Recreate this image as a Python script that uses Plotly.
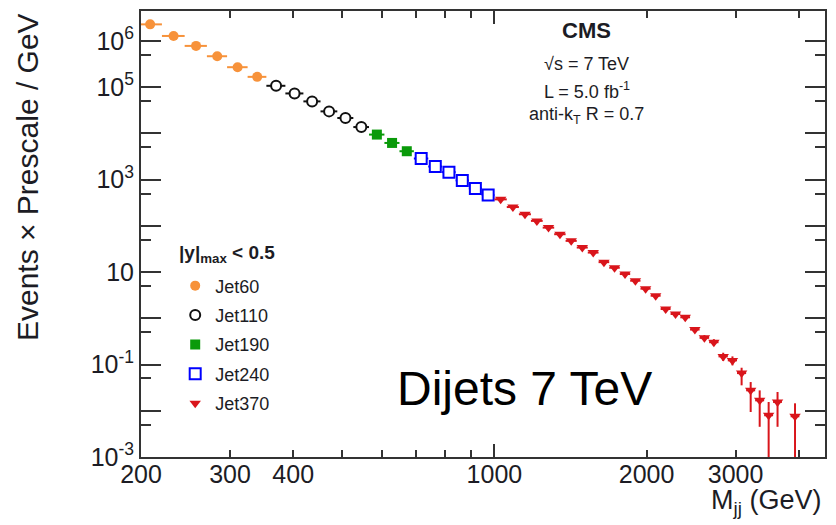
import plotly.graph_objects as go

# Dijet mass bin edges (GeV) for each trigger path
jet60_edges = [197, 220, 244, 270, 296, 325, 354]
jet110_edges = [354, 386, 419, 453, 489, 526, 565]
jet190_edges = [565, 606, 649, 693]
jet240_edges = [693, 740, 788, 838, 890, 944, 1000]
jet370_edges = [1000, 1058, 1118, 1181, 1246, 1313, 1383, 1455, 1530, 1607, 1687,
                1770, 1856, 1945, 2037, 2132, 2231, 2332, 2438, 2546, 2659, 2775,
                2895, 3019, 3147, 3279, 3416, 3558, 3704, 3854, 4010]

# Events x Prescale / GeV per bin
jet60_vals = [2.28e6, 1.28e6, 7.8e5, 4.66e5, 2.70e5, 1.67e5]
jet110_vals = [1.07e5, 7.31e4, 4.92e4, 2.99e4, 2.15e4, 1.37e4]
jet190_vals = [9.42e3, 6.21e3, 4.11e3]
jet240_vals = [2.86e3, 1.92e3, 1.45e3, 961, 646, 463]
jet370_vals = [374, 255, 178, 128, 91.5, 65.9, 47.3, 33.9, 26.4, 16.4, 12.4, 9.06,
               6.50, 4.37, 3.08, 1.59, 1.24, 1.05, 0.571, 0.378, 0.304, 0.150,
               0.123, 0.0653, 0.0277, 0.0168, 0.0080, 0.0155, None, 0.0076]
jet370_err_hi = [4, 3, 2, 1.5, 1.2, 0.9, 0.7, 0.6, 0.5, 0.4, 0.35, 0.3, 0.25, 0.2,
                 0.17, 0.12, 0.11, 0.1, 0.07, 0.055, 0.05, 0.03, 0.027, 0.02,
                 0.0141, 0.0108, 0.0075, 0.0100, 0, 0.0069]
jet370_err_lo = [4, 3, 2, 1.5, 1.2, 0.9, 0.7, 0.6, 0.5, 0.4, 0.35, 0.3, 0.25, 0.2,
                 0.17, 0.12, 0.11, 0.1, 0.07, 0.055, 0.05, 0.03, 0.027, 0.0298,
                 0.0183, 0.0123, 0.0079, 0.0110, 0, 0.0075]

# Axis ticks
x_tick_vals = [200, 300, 400, 1000, 2000, 3000]
x_tick_text = ["200", "300", "400", "1000", "2000", "3000"]
x_minor_vals = [500, 600, 700, 800, 900, 4000]
x_long_vals = [1000]
y_tick_vals = [1e-3, 1e-1, 10, 1e3, 1e5, 1e6]
y_tick_text = ["10<sup>-3</sup>", "10<sup>-1</sup>", "10",
               "10<sup>3</sup>", "10<sup>5</sup>", "10<sup>6</sup>"]
y_unlabeled_vals = [1e-2, 1, 1e2, 1e4]
y_minor_vals = [5e-3, 5e-2, 5e-1, 5, 50, 5e2, 5e3, 5e4, 5e5, 5e6]

FONT = "Liberation Sans, Arial, sans-serif"
TXT = "#1c1c24"
AX = "#333333"


def bins(edges):
    lo = edges[:-1]
    hi = edges[1:]
    c = [(a + b) / 2 for a, b in zip(lo, hi)]
    return c, [b - m for b, m in zip(hi, c)], [m - a for a, m in zip(lo, c)]


def series(name, edges, vals, color, marker, err_hi=None, err_lo=None):
    c, ep, em = bins(edges)
    kw = {}
    if err_hi is not None:
        kw["error_y"] = dict(type="data", symmetric=False, array=err_hi,
                             arrayminus=err_lo, color=color, thickness=2, width=0)
    return go.Scatter(
        x=c, y=vals, mode="markers", name=name, legendgroup=name,
        marker=marker,
        error_x=dict(type="data", symmetric=False, array=ep, arrayminus=em,
                     color=color, thickness=2, width=0),
        **kw,
    )


fig = go.Figure()
fig.add_trace(series("Jet60", jet60_edges, jet60_vals, "#f7923a",
                     dict(symbol="circle", size=10, color="#f7923a")))
fig.add_trace(series("Jet110", jet110_edges, jet110_vals, "#111111",
                     dict(symbol="circle", size=10, color="white",
                          line=dict(color="#111111", width=2))))
fig.add_trace(series("Jet190", jet190_edges, jet190_vals, "#0a9a0a",
                     dict(symbol="square", size=10, color="#0a9a0a")))
fig.add_trace(series("Jet240", jet240_edges, jet240_vals, "#0000ff",
                     dict(symbol="square", size=11, color="white",
                          line=dict(color="#0000ff", width=2))))
fig.add_trace(series("Jet370", jet370_edges, jet370_vals, "#d9151b",
                     dict(symbol="triangle-down", size=10, color="#d9151b"),
                     jet370_err_hi, jet370_err_lo))
# empty carriers for the extra tick-only axes
fig.add_trace(go.Scatter(x=[], y=[], xaxis="x2", yaxis="y", showlegend=False))
fig.add_trace(go.Scatter(x=[], y=[], xaxis="x", yaxis="y2", showlegend=False))

x_range = [2.30103, 3.6539]
y_range = [-3, 6.647]
fig.update_layout(
    width=836, height=525,
    margin=dict(l=141, r=11, t=9, b=68),
    paper_bgcolor="white", plot_bgcolor="white",
    font=dict(family=FONT, color=TXT),
    showlegend=True,
    legend=dict(
        x=0.05, y=0.425, xanchor="left", yanchor="top",
        bgcolor="rgba(0,0,0,0)",
        font=dict(size=18, family=FONT, color=TXT),
        tracegroupgap=3, itemsizing="trace",
    ),
    xaxis=dict(
        type="log", range=x_range,
        tickmode="array", tickvals=x_tick_vals, ticktext=x_tick_text,
        ticks="inside", ticklen=7, tickwidth=2, tickcolor=AX,
        showline=True, linewidth=2, linecolor=AX, mirror="ticks",
        showgrid=False, zeroline=False,
        tickfont=dict(size=25, family=FONT, color=TXT),
        ticklabelstandoff=-6,
        minor=dict(tickmode="array", tickvals=x_minor_vals, ticks="inside",
                   ticklen=7, tickwidth=2, tickcolor=AX, showgrid=False),
    ),
    xaxis2=dict(
        type="log", range=x_range, overlaying="x", anchor="y", side="bottom",
        tickmode="array", tickvals=x_long_vals, showticklabels=False,
        ticks="inside", ticklen=13, tickwidth=2, tickcolor=AX,
        mirror="ticks", showline=False, showgrid=False, zeroline=False,
    ),
    yaxis=dict(
        type="log", range=y_range,
        tickmode="array", tickvals=y_tick_vals, ticktext=y_tick_text,
        ticks="inside", ticklen=20, tickwidth=2, tickcolor=AX,
        showline=True, linewidth=2, linecolor=AX, mirror="ticks",
        showgrid=False, zeroline=False,
        tickfont=dict(size=25, family=FONT, color=TXT),
        ticklabelstandoff=0,
        minor=dict(tickmode="array", tickvals=y_minor_vals, ticks="inside",
                   ticklen=10, tickwidth=2, tickcolor=AX, showgrid=False),
    ),
    yaxis2=dict(
        type="log", range=y_range, overlaying="y", anchor="x", side="left",
        tickmode="array", tickvals=y_unlabeled_vals, showticklabels=False,
        ticks="inside", ticklen=20, tickwidth=2, tickcolor=AX,
        mirror="ticks", showline=False, showgrid=False, zeroline=False,
    ),
)


def note(text, x, y, size, bold=False, xanchor="center", color=TXT, angle=0):
    if bold:
        text = "<b>" + text + "</b>"
    return dict(text=text, xref="paper", yref="paper", x=x, y=y, textangle=angle,
                xanchor=xanchor, yanchor="middle", showarrow=False,
                font=dict(size=size, family=FONT, color=color))


annotations = [
    note("Events × Prescale / GeV", -0.165, 0.628, 30, angle=-90),
    note("M<sub>jj</sub> (GeV)", 0.997, -0.102, 27, xanchor="right"),
    note("CMS", 0.652, (456.7 - 29) / 447.4, 22, bold=True),
    note("√s = 7 TeV", 0.652, (456.7 - 62) / 447.4, 18),
    note("L = 5.0 fb<sup>-1</sup>", 0.652, (456.7 - 89) / 447.4, 18),
    note("anti-k<sub>T</sub> R = 0.7", 0.652, (456.7 - 114) / 447.4, 18),
    note("|y|<sub>max</sub> &lt; 0.5", (176.5 - 140.7) / 684.3, (456.7 - 253) / 447.4,
         19, bold=True, xanchor="left"),
    note("Dijets 7 TeV", 0.561, 0.1536, 48, color="black"),
]
fig.update_layout(annotations=annotations)

fig.write_html("out.html")
